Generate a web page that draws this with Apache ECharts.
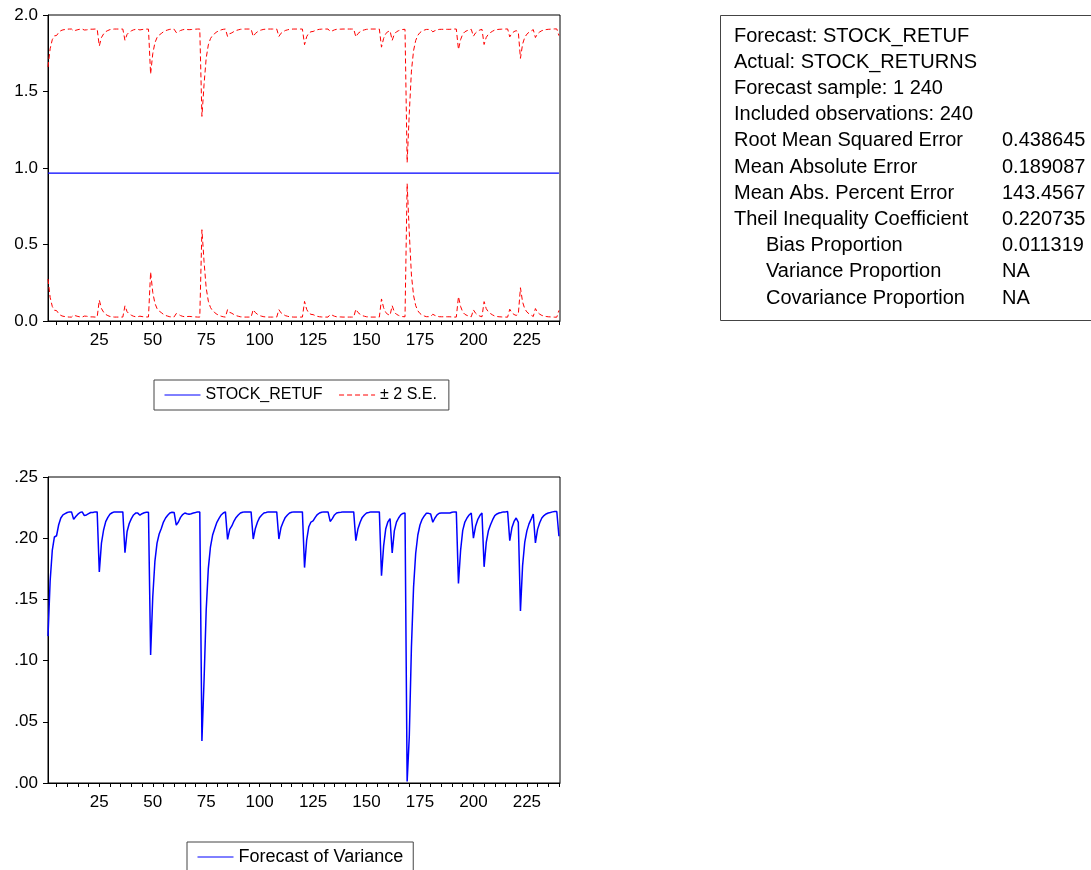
<!DOCTYPE html>
<html>
<head>
<meta charset="utf-8">
<script src="https://cdn.jsdelivr.net/npm/echarts@6/dist/echarts.min.js"></script>
<style>
html,body{margin:0;padding:0;background:#fff;}
#chart{width:1091px;height:870px;}
</style>
</head>
<body>
<div id="chart"></div>
<script>
// ---- data ----
var forecastValue = 0.967;   // STOCK_RETUF (flat forecast)
var forecastVariance = [
0.120,0.165,0.190,0.201,0.202,0.211,0.2165,0.219,0.220,0.221,
0.2215,0.2215,0.2154,0.2177,0.2196,0.221,0.2215,0.2185,0.219,0.220,
0.221,0.221,0.2215,0.2215,0.1724,0.196,0.2067,0.2135,0.217,0.2197,
0.2208,0.2215,0.2215,0.2215,0.2215,0.2215,0.1882,0.2055,0.212,0.216,
0.219,0.2205,0.2205,0.2188,0.2200,0.2208,0.2212,0.2212,0.1046,0.152,
0.181,0.196,0.2034,0.208,0.2132,0.2165,0.2187,0.2206,0.2212,0.221,
0.2107,0.2132,0.217,0.2193,0.2206,0.220,0.2195,0.2200,0.2206,0.221,
0.2215,0.2215,0.0343,0.084,0.1413,0.1754,0.193,0.2026,0.208,0.213,
0.2162,0.219,0.2206,0.2215,0.199,0.2072,0.210,0.214,0.217,0.219,
0.2206,0.2212,0.2215,0.2215,0.2215,0.2215,0.1993,0.208,0.2132,0.217,
0.219,0.2206,0.221,0.2215,0.2215,0.2215,0.2215,0.2215,0.1993,0.2088,
0.2132,0.217,0.219,0.2206,0.2212,0.2215,0.2215,0.2215,0.2215,0.2215,
0.176,0.1985,0.2094,0.2132,0.2141,0.2170,0.2193,0.2206,0.2212,0.2215,
0.2215,0.2215,0.2137,0.216,0.219,0.2206,0.221,0.2212,0.2215,0.2215,
0.2215,0.2215,0.2215,0.2215,0.198,0.2078,0.213,0.217,0.219,0.2206,
0.221,0.2215,0.2215,0.2215,0.2215,0.2215,0.1693,0.1937,0.2078,0.2134,
0.216,0.188,0.206,0.2131,0.2165,0.219,0.2202,0.2206,0.0012,0.038,
0.111,0.160,0.1877,0.2026,0.2108,0.2154,0.2182,0.2203,0.2203,0.2198,
0.213,0.2165,0.219,0.2204,0.2206,0.2206,0.2206,0.2206,0.2206,0.2212,
0.2215,0.2215,0.163,0.190,0.2064,0.2132,0.2165,0.219,0.2206,0.200,
0.2097,0.2151,0.2185,0.2206,0.1766,0.1965,0.206,0.211,0.2151,0.2185,
0.2198,0.2206,0.221,0.2215,0.2215,0.2218,0.198,0.2085,0.2137,0.2165,
0.2129,0.1405,0.1776,0.1965,0.206,0.2117,0.2156,0.2198,0.1961,0.2072,
0.2126,0.2165,0.2185,0.2198,0.2206,0.221,0.2215,0.2218,0.2218,0.2016
];
var xTickValues = [5,10,15,20,25,30,35,40,45,50,55,60,65,70,75,80,85,90,95,100,105,110,115,120,
  125,130,135,140,145,150,155,160,165,170,175,180,185,190,195,200,205,210,215,220,225,230,235,240];
var xLabelValues = [25,50,75,100,125,150,175,200,225];
var statLabels = ['Forecast: STOCK_RETUF','Actual: STOCK_RETURNS','Forecast sample: 1 240','Included observations: 240',
  'Root Mean Squared Error','Mean Absolute Error','Mean Abs. Percent Error','Theil Inequality Coefficient',
  'Bias Proportion','Variance Proportion','Covariance Proportion'];
var statValues = ['','','','','0.438645','0.189087','143.4567','0.220735','0.011319','NA','NA'];
var statIndent = [0,0,0,0,0,0,0,0,1,1,1];

// ---- build series (bands are forecast ± 2 S.E., S.E. = sqrt(variance)) ----
var fcData = [], upData = [], loData = [], varData = [];
for (var i = 0; i < forecastVariance.length; i++) {
  var t = i + 1, se = Math.sqrt(forecastVariance[i]);
  fcData.push([t, forecastValue]);
  upData.push([t, forecastValue + 2 * se]);
  loData.push([t, forecastValue - 2 * se]);
  varData.push([t, forecastVariance[i]]);
}

var FONT = 'Liberation Sans, Arial, sans-serif';
function xAxisDef(gi) {
  return {
    type: 'value', gridIndex: gi, min: 1, max: 240.5,
    axisLine: {show: true, lineStyle: {color: '#000', width: 1}},
    axisTick: {show: true, customValues: xTickValues, length: 4, lineStyle: {color: '#000'}},
    axisLabel: {show: true, customValues: xLabelValues, color: '#000', fontSize: 17, fontFamily: FONT, margin: 11},
    splitLine: {show: false}
  };
}

var graphics = [{
  type: 'rect', shape: {x: 720.5, y: 15.5, width: 400, height: 305},
  style: {fill: '#fff', stroke: '#444', lineWidth: 1}, z: 10
}];
for (var k = 0; k < statLabels.length; k++) {
  var yc = 36 + k * 26.2;
  graphics.push({type: 'text', x: statIndent[k] ? 766 : 734, y: yc, z: 11,
    style: {text: statLabels[k], fill: '#000', font: '20px ' + FONT, textVerticalAlign: 'middle'}});
  if (statValues[k]) {
    graphics.push({type: 'text', x: 1002, y: yc, z: 11,
      style: {text: statValues[k], fill: '#000', font: '20px ' + FONT, textVerticalAlign: 'middle'}});
  }
}

var chart = echarts.init(document.getElementById('chart'), null, {renderer: 'canvas'});
chart.setOption({
  animation: false,
  backgroundColor: '#fff',
  textStyle: {fontFamily: FONT},
  grid: [
    {left: 48, top: 15, width: 512, height: 306, show: true, borderColor: '#000', borderWidth: 1, backgroundColor: 'transparent'},
    {left: 48, top: 477, width: 512, height: 306, show: true, borderColor: '#000', borderWidth: 1, backgroundColor: 'transparent'}
  ],
  xAxis: [xAxisDef(0), xAxisDef(1)],
  yAxis: [
    {type: 'value', gridIndex: 0, min: 0, max: 2, interval: 0.5,
     axisLine: {show: true, lineStyle: {color: '#000'}},
     axisTick: {show: true, length: 5, lineStyle: {color: '#000'}},
     axisLabel: {color: '#000', fontSize: 17, fontFamily: FONT, margin: 10, formatter: function (v) { return v.toFixed(1); }},
     splitLine: {show: false}},
    {type: 'value', gridIndex: 1, min: 0, max: 0.25, interval: 0.05,
     axisLine: {show: true, lineStyle: {color: '#000'}},
     axisTick: {show: true, length: 5, lineStyle: {color: '#000'}},
     axisLabel: {color: '#000', fontSize: 17, fontFamily: FONT, margin: 10, formatter: function (v) { return v.toFixed(2).replace(/^0/, ''); }},
     splitLine: {show: false}}
  ],
  legend: [
    {data: ['STOCK_RETUF', '± 2 S.E.'], left: 154, top: 380, orient: 'horizontal',
     itemWidth: 36, itemHeight: 12, itemGap: 16, padding: [7, 12, 7, 10],
     itemStyle: {opacity: 0}, lineStyle: {width: 1},
     borderColor: '#444', borderWidth: 1, backgroundColor: '#fff',
     textStyle: {color: '#000', fontSize: 16, fontFamily: FONT}},
    {data: ['Forecast of Variance'], left: 187, top: 842, orient: 'horizontal',
     itemWidth: 36, itemHeight: 12, padding: [6, 10, 6, 10],
     itemStyle: {opacity: 0}, lineStyle: {width: 1},
     borderColor: '#444', borderWidth: 1, backgroundColor: '#fff',
     textStyle: {color: '#000', fontSize: 18, fontFamily: FONT}}
  ],
  graphic: graphics,
  series: [
    {name: 'STOCK_RETUF', type: 'line', xAxisIndex: 0, yAxisIndex: 0, data: fcData, showSymbol: false, symbol: 'none',
     lineStyle: {color: '#0000ff', width: 1.2}, itemStyle: {color: '#0000ff'}},
    {name: '± 2 S.E.', type: 'line', xAxisIndex: 0, yAxisIndex: 0, data: upData, showSymbol: false, symbol: 'none',
     lineStyle: {color: '#ff0000', width: 1, type: [5, 3]}, itemStyle: {color: '#ff0000'}},
    {name: '± 2 S.E.', type: 'line', xAxisIndex: 0, yAxisIndex: 0, data: loData, showSymbol: false, symbol: 'none',
     lineStyle: {color: '#ff0000', width: 1, type: [5, 3]}, itemStyle: {color: '#ff0000'}},
    {name: 'Forecast of Variance', type: 'line', xAxisIndex: 1, yAxisIndex: 1, data: varData, showSymbol: false, symbol: 'none',
     lineStyle: {color: '#0000ff', width: 1.5}, itemStyle: {color: '#0000ff'}}
  ]
});
</script>
</body>
</html>
